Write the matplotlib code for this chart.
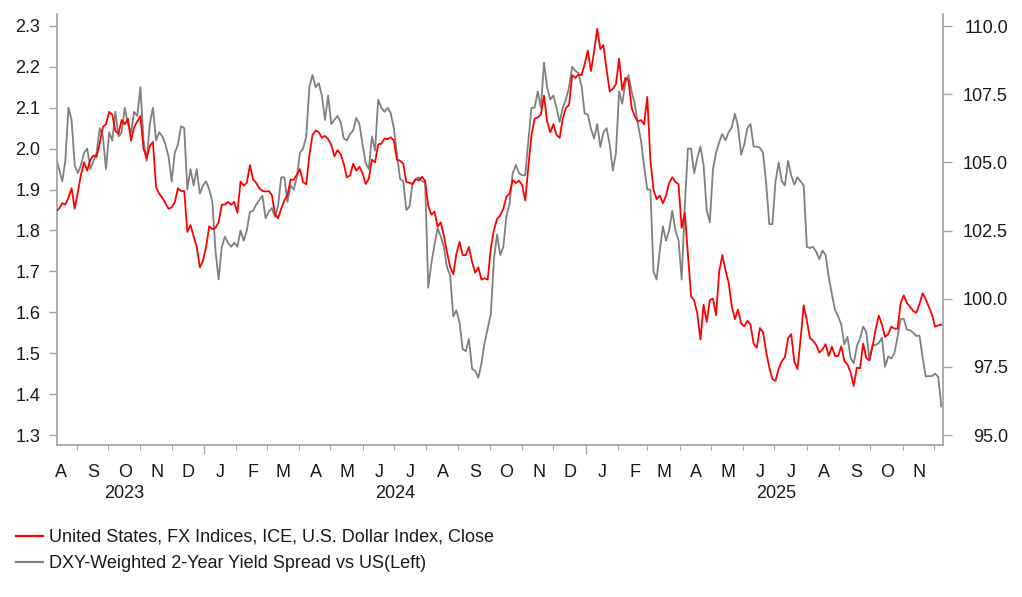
import pandas as pd
import matplotlib
matplotlib.use("Agg")
import matplotlib.pyplot as plt
import matplotlib.dates as mdates
from matplotlib.lines import Line2D

plt.rcParams["font.family"] = ["Liberation Sans", "DejaVu Sans"]

# ---------------- data (one value every 3 days) ----------------
start_date = "2023-08-12"

# DXY-weighted 2y yield spread vs US (left axis)
spread_2y = [
    1.98, 1.95, 1.92, 1.97, 2.10, 2.07, 1.96, 1.94, 1.96, 1.99, 2.00, 1.95,
    1.97, 1.99, 2.05, 2.03, 1.95, 2.04, 2.02, 2.09, 2.03, 2.04, 2.10, 2.06,
    2.04, 2.09, 2.08, 2.15, 2.02, 1.97, 2.06, 2.10, 2.02, 2.04, 2.03, 2.01,
    1.98, 1.92, 1.99, 2.01, 2.055, 2.05, 1.90, 1.95, 1.91, 1.95, 1.89, 1.91,
    1.92, 1.90, 1.87, 1.75, 1.68, 1.76, 1.785, 1.77, 1.76, 1.77, 1.76, 1.80,
    1.775, 1.80, 1.845, 1.848, 1.863, 1.874, 1.885, 1.83, 1.845, 1.855, 1.833,
    1.86, 1.93, 1.93, 1.87, 1.91, 1.90, 1.93, 1.99, 2.00, 2.03, 2.15, 2.18,
    2.15, 2.16, 2.13, 2.07, 2.13, 2.06, 2.07, 2.08, 2.065, 2.025, 2.02, 2.036,
    2.044, 2.075, 2.06, 2.01, 1.965, 1.95, 2.03, 1.995, 2.12, 2.10, 2.09, 2.10,
    2.087, 2.05, 1.985, 1.926, 1.92, 1.85, 1.858, 1.916, 1.925, 1.93, 1.92,
    1.918, 1.66, 1.72, 1.765, 1.805, 1.785, 1.76, 1.71, 1.69, 1.59, 1.605,
    1.575, 1.51, 1.505, 1.535, 1.462, 1.457, 1.44, 1.475, 1.525, 1.56, 1.596,
    1.73, 1.79,
    1.74, 1.76, 1.836, 1.865, 1.94, 1.96, 1.94, 1.935, 1.935, 2.02, 2.10, 2.10,
    2.14, 2.10, 2.21, 2.15, 2.12, 2.13, 2.10, 2.065, 2.10, 2.12, 2.15, 2.20,
    2.19, 2.185, 2.153, 2.086, 2.083, 2.049, 2.025, 2.06, 2.004, 2.04, 2.05,
    2.01, 1.946, 1.99, 2.14, 2.11, 2.16, 2.18, 2.14, 2.11, 2.06, 2.02, 1.957,
    1.90, 1.90, 1.70, 1.68, 1.75, 1.81, 1.775, 1.80, 1.848, 1.80, 1.776, 1.68,
    1.86, 2.00, 2.00, 1.94, 1.977, 2.005, 1.96, 1.85, 1.82, 1.95, 1.99,
    2.016, 2.036, 2.02, 2.04, 2.052, 2.085, 2.055, 1.985, 2.01, 2.05, 2.06,
    2.005, 2.005, 2.002, 1.99, 1.915, 1.816, 1.815, 1.92, 1.966, 1.92, 1.91,
    1.97, 1.935, 1.912, 1.93, 1.92, 1.91, 1.76, 1.757, 1.76, 1.748, 1.73,
    1.751, 1.74,
    1.686, 1.645, 1.606, 1.59, 1.57, 1.522, 1.54, 1.488, 1.475, 1.517, 1.536,
    1.565, 1.552, 1.486, 1.52, 1.52, 1.525, 1.538, 1.467, 1.492, 1.487, 1.50,
    1.54, 1.583, 1.584, 1.558, 1.556, 1.55, 1.542, 1.543, 1.49, 1.443, 1.444,
    1.444, 1.45, 1.442, 1.37,
]

# ICE U.S. Dollar Index close (right axis)
dxy_close = [
    103.2, 103.3, 103.5, 103.45, 103.7, 104.05, 103.3, 103.9, 104.55, 105.0,
    104.7, 105.1, 105.25, 105.2, 105.7, 106.3, 106.4, 106.85, 106.75, 106.15,
    106.05, 106.55, 106.4, 106.6, 105.8, 106.3, 106.5, 106.7, 105.5, 105.15,
    105.6, 105.75, 104.1, 103.85, 103.7, 103.5,
    103.3, 103.35, 103.55, 104.05, 103.95, 103.95, 102.45, 102.7, 102.3, 101.9,
    101.15, 101.4, 101.9, 102.65, 102.55, 102.6, 102.8, 103.45, 103.45, 103.55,
    103.45, 103.55, 103.15, 104.3, 104.15, 104.25, 104.9, 104.38, 104.25,
    104.05, 103.95, 103.93, 103.95, 103.8, 103.12,
    102.95, 103.3, 103.6, 103.8, 104.37, 104.36, 104.55, 104.75, 104.27, 104.2,
    105.25, 106.0, 106.17, 106.11, 105.9, 105.97, 105.85, 105.65, 105.22,
    105.45, 105.3, 104.95, 104.45, 104.52, 104.95, 104.7, 104.84, 104.6,
    104.21, 104.4, 105.1, 105.0, 105.66, 105.68, 105.87, 105.85,
    105.92, 105.8, 105.1, 105.06, 104.95, 104.28, 104.25, 104.2, 104.39,
    104.34, 104.47, 104.32, 103.4, 103.08, 103.2, 102.64, 102.8, 102.3, 101.7,
    101.16, 100.9, 101.65, 102.08, 101.6, 101.6, 101.9, 101.35, 100.95,
    101.15, 100.7, 100.75, 100.7, 101.85, 102.52, 102.93,
    103.05, 103.3, 103.75, 103.85, 104.35, 104.24, 104.33, 104.17, 103.6,
    104.85, 106.0, 106.6, 106.65, 106.75, 107.45, 106.5, 106.1, 106.4, 106.0,
    105.9, 106.6, 107.0, 107.1, 108.2, 108.1, 108.22, 108.2, 108.6, 109.1,
    108.35, 109.05, 109.9, 109.15, 109.3, 108.4,
    107.6, 107.7, 107.87, 108.8, 107.65, 108.1, 108.0, 107.0, 106.7, 106.5,
    106.55, 106.4, 107.4, 105.1, 104.0, 103.65, 103.78, 103.5, 103.78, 104.25,
    104.45, 104.28, 104.2, 102.6, 103.15, 101.6, 100.1, 99.93, 99.45, 98.5,
    99.78, 99.15, 99.95, 100.0, 99.4,
    101.0, 101.6, 101.05, 100.6, 99.74, 99.25, 99.6, 99.1, 98.99, 99.19, 99.05,
    98.35, 98.2, 98.92, 98.78, 98.05, 97.49, 97.05, 96.99, 97.43, 97.7, 97.86,
    98.55, 98.7, 97.7, 97.42, 98.5, 99.76, 99.2, 98.55, 98.46, 98.3, 98.02,
    98.14, 98.33,
    97.9, 98.24, 97.9, 97.9, 98.25, 97.72, 97.58, 97.3, 96.8, 97.47, 97.45,
    98.35, 97.83, 97.74, 98.25, 98.87, 99.38, 99.05, 98.6, 98.7, 98.97, 98.9,
    98.9, 99.85, 100.12, 99.84, 99.7, 99.55, 99.48, 99.8, 100.2, 99.98, 99.7,
    99.42, 98.97, 99.02, 99.05,
]

dates = pd.date_range(start_date, periods=len(spread_2y), freq="3D")

left_ticks = [1.3, 1.4, 1.5, 1.6, 1.7, 1.8, 1.9, 2.0, 2.1, 2.2, 2.3]
right_ticks = [95.0, 97.5, 100.0, 102.5, 105.0, 107.5, 110.0]
month_letters = ["J", "F", "M", "A", "M", "J", "J", "A", "S", "O", "N", "D"]
labelled_months = pd.date_range("2023-08-01", "2025-11-01", freq="MS")
year_names = ["2023", "2024", "2025"]
year_label_dates = ["2023-10-16", "2024-07-02", "2025-07-03"]

label_dxy = "United States, FX Indices, ICE, U.S. Dollar Index, Close"
label_spread = "DXY-Weighted 2-Year Yield Spread vs US(Left)"

RED = "#ff0000"
GREY = "#808080"
AXIS = "#a6a6a6"
TXT = "#1a1a1a"
FS = 13

# ---------------- figure ----------------
fig = plt.figure(figsize=(10.22, 5.97), dpi=100)
ax = fig.add_axes([0.0555, 0.2546, 0.8675, 0.7219])
ax2 = ax.twinx()

ax.plot(dates, spread_2y, color=GREY, lw=1.3)
ax2.plot(dates, dxy_close, color=RED, lw=1.3)

ax.set_xlim(pd.Timestamp("2023-08-12 18:00"), pd.Timestamp("2025-12-09 21:00"))
ax.set_ylim(1.2756, 2.329)
ax2.set_ylim(94.634, 110.44)

ax.set_yticks(left_ticks)
ax.set_yticklabels([f"{v:.1f}" for v in left_ticks])
ax2.set_yticks(right_ticks)
ax2.set_yticklabels([f"{v:.1f}" for v in right_ticks])

for a in (ax, ax2):
    for s in a.spines.values():
        s.set_visible(False)
ax.spines["left"].set_visible(True)
ax.spines["bottom"].set_visible(True)
ax2.spines["right"].set_visible(True)
for s in (ax.spines["left"], ax.spines["bottom"], ax2.spines["right"]):
    s.set_color(AXIS)
    s.set_linewidth(1.3)

ax.tick_params(axis="y", length=5.8, width=1.0, color=AXIS, labelsize=FS,
               labelcolor=TXT, pad=6)
ax2.tick_params(axis="y", length=6.5, width=1.0, color=AXIS, labelsize=FS,
                labelcolor=TXT, pad=40)
for lab in ax2.get_yticklabels():
    lab.set_horizontalalignment("right")

# x axis: year ticks long, month ticks short, letters placed mid-month
ax.xaxis.set_major_locator(mdates.YearLocator())
ax.xaxis.set_minor_locator(mdates.MonthLocator())
ax.tick_params(axis="x", which="major", length=6.5, width=1.0, color=AXIS,
               labelbottom=False)
ax.tick_params(axis="x", which="minor", length=3.6, width=0.8, color=AXIS,
               labelbottom=False)

for m in labelled_months:
    xm = mdates.date2num(m + pd.Timedelta(days=16))
    ax.annotate(month_letters[m.month - 1], xy=(xm, 0),
                xycoords=("data", "axes fraction"), xytext=(0, -19.5),
                textcoords="offset points", ha="center", va="center",
                fontsize=FS, color=TXT, annotation_clip=False)

for name, d in zip(year_names, year_label_dates):
    ax.annotate(name, xy=(mdates.date2num(pd.Timestamp(d)), 0),
                xycoords=("data", "axes fraction"), xytext=(0, -35),
                textcoords="offset points", ha="center", va="center",
                fontsize=FS, color=TXT, annotation_clip=False)

handles = [Line2D([], [], color=RED, lw=1.6), Line2D([], [], color=GREY, lw=1.6)]
fig.legend(handles, [label_dxy, label_spread], loc="upper left",
           bbox_to_anchor=(16 / 1022, 1 - 529 / 597), frameon=False,
           fontsize=FS, handlelength=1.5, handletextpad=0.33,
           labelspacing=0.5, borderpad=0, borderaxespad=0,
           labelcolor=TXT)

fig.savefig("out.png", dpi=100)
